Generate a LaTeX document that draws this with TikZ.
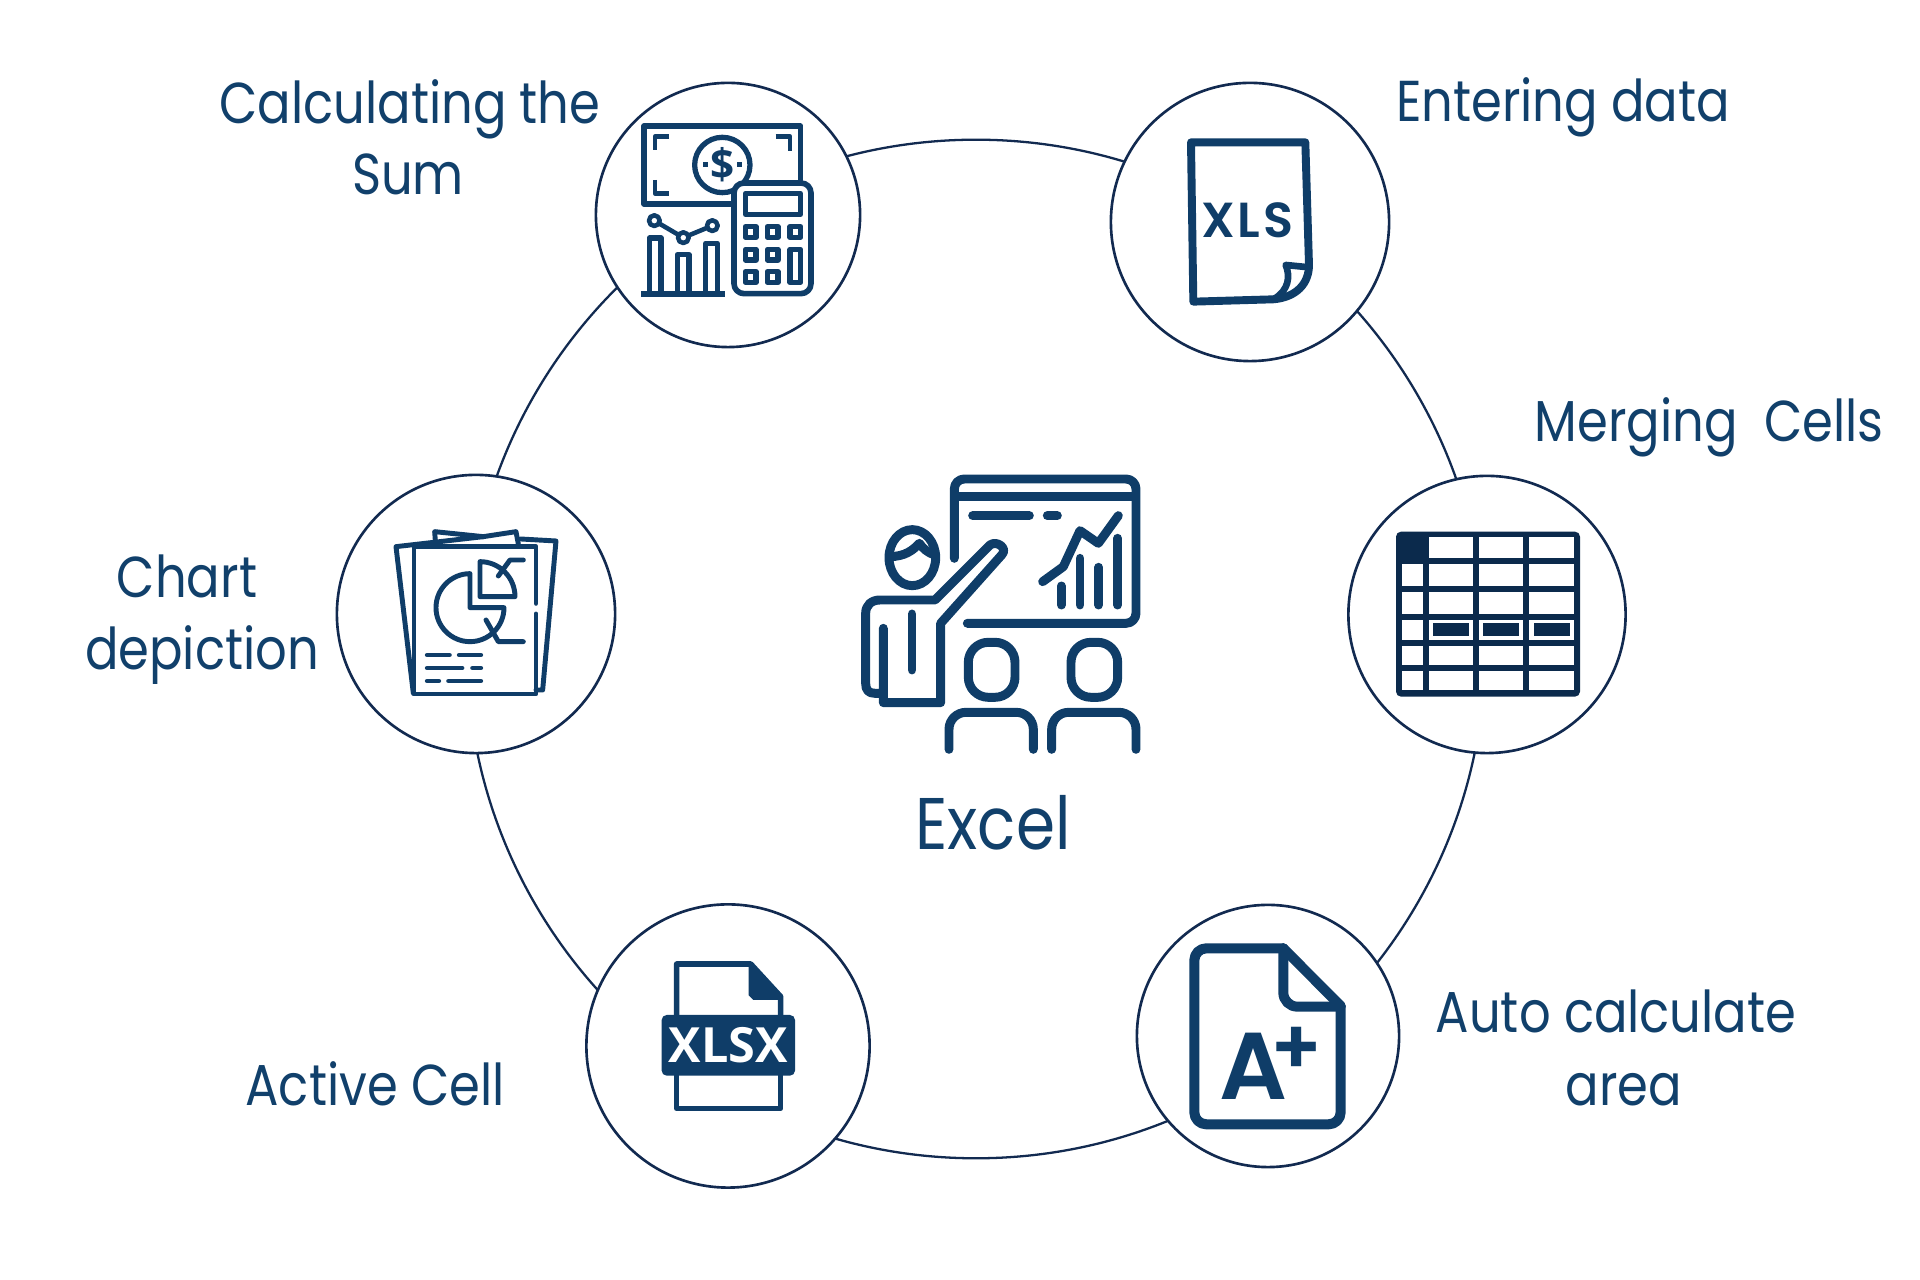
\documentclass[tikz,border=0pt]{standalone}
\usepackage{fontspec}
\usepackage{tikz}
\usetikzlibrary{positioning}
\newfontfamily\labelFont[FakeStretch=.86]{Poppins}
\newfontfamily\iconFont{Open Sans}
\newfontfamily\roundFont[LetterSpace=6]{Poppins SemiBold}
\definecolor{iconBlue}{RGB}{15,61,104}
\definecolor{circleBlue}{RGB}{18,42,80}
\definecolor{tableBlue}{RGB}{11,42,76}
\definecolor{textBlue}{RGB}{17,64,107}
\tikzstyle{canvas} = [x = .01cm, y = -.01cm]
\tikzstyle{iconFrame} = [shift={(#1)}, scale=1/3]
\tikzstyle{ringCircle} = [circle, draw=circleBlue, line width=.65pt, inner sep=0, minimum size=10.18cm]
\tikzstyle{iconCircleStyle} = [circle, draw=circleBlue, fill=white, line width=.75pt, inner sep=0]
\tikzstyle{labelStyle} = [anchor=base, inner sep=0, text=textBlue, font=\labelFont\fontsize{16.4}{20}\selectfont]
\tikzstyle{iconLine} = [color=iconBlue, line width=1.4pt, line cap=round, line join=round]
\tikzstyle{thinLine} = [iconLine, line width=1.3pt]
\tikzstyle{thickLine} = [iconLine, line width=2.55pt]
\tikzstyle{heavyLine} = [iconLine, line width=2.85pt]
\tikzstyle{iconText} = [inner sep=0, text=iconBlue]
\newcommand{\iconCircle}[4]{\node [iconCircleStyle, minimum size=#4 * .02cm] (#1) at (#2,#3) {};}
\newcommand{\labelText}[4]{\node [labelStyle] (#1) at (#2,#3) {#4};}
\newcommand{\calcIcon}{
  \begin{scope}[iconFrame={590,70}]
    \draw [iconLine, line width=1.5pt] (632,330) -- (632,168) -- (162,168) -- (162,402) -- (430,402);
    \draw [thinLine, line cap=butt] (237,200) -- (195,200) -- (195,240);
    \draw [thinLine, line cap=butt] (557,200) -- (600,200) -- (600,242);
    \draw [thinLine, line cap=butt] (195,330) -- (195,370) -- (237,370);
    \draw [iconLine, line width=1.5pt] (397,285) circle [radius=83];
    \node [iconText, font=\iconFont\bfseries\fontsize{12}{14}\selectfont] (dollarSign) at (397,283) {\$};
    \fill [iconBlue] (338,277) rectangle +(15,15);
    \fill [iconBlue] (441,277) rectangle +(15,15);
    \filldraw [iconLine, line width=1.6pt, fill=white, rounded corners=.1cm] (432,339) rectangle (663,671);
    \draw [thinLine] (466,370) rectangle (632,434);
    \foreach \column/\row in {458/462,524/462,592/462,458/530,524/530,458/597,524/597} {
      \draw [thinLine, line width=1.45pt, line cap=butt] (\column + 8,\row + 8) rectangle +(32,32);
    }
    \draw [thinLine, line width=1.45pt, line cap=butt] (600,538) rectangle (632,637);
    \foreach \barLeft/\barTop in {178/504,262/554,347/520} {
      \draw [thinLine, line width=1.45pt, line cap=butt] (\barLeft,672) -- (\barLeft,\barTop) -- +(35,0) -- (\barLeft + 35,672);
    }
    \draw [iconLine, line width=1.5pt, line cap=butt] (153,672) -- (405,672);
    \draw [thinLine] (193,452) -- (280,503) -- (367,467);
    \foreach \dotX/\dotY in {193/452,280/503,367/467} {
      \filldraw [thinLine, fill=white] (\dotX,\dotY) circle [radius=16];
    }
  \end{scope}
}
\newcommand{\enterIcon}{
  \begin{scope}[iconFrame={1110,70}]
    \draw [iconLine, line width=2.25pt] (243,217) -- (586,217) -- (597,585) .. controls (597,640) and (560,682) .. (490,688) -- (250,695) -- cycle;
    \draw [iconLine, line width=1.9pt] (597,592) -- (527,585) .. controls (542,620) and (535,660) .. (495,685);
    \node [iconText, font=\roundFont\fontsize{14}{16}\selectfont] (xlsText) at (412,450) {XLS};
  \end{scope}
}
\newcommand{\chartIcon}{
  \begin{scope}[iconFrame={330,470}]
    \draw [iconLine] (316,212) -- (314,185) -- (460,200) -- (558,185) -- (565,222);
    \draw [iconLine] (460,200) -- (198,230) -- (250,670);
    \draw [iconLine] (572,207) -- (678,213) -- (638,660) -- (618,660);
    \draw [iconLine] (618,400) -- (618,230) -- (252,230) -- (252,672) -- (618,672) -- (618,432);
    \draw [iconLine] (420,413) -- (522,413) arc (0:270:102) -- cycle;
    \draw [iconLine] (450,380) -- (555,380) arc (0:-90:105) -- cycle;
    \draw [iconLine] (505,318) -- (540,270) -- (580,270);
    \draw [iconLine] (468,450) -- (505,515) -- (580,515);
    \foreach \lineStart/\lineEnd/\lineY in {292/358/555,388/452/555,292/396/594,428/452/594,292/326/633,356/452/633} {
      \draw [iconLine] (\lineStart,\lineY) -- (\lineEnd,\lineY);
    }
  \end{scope}
}
\newcommand{\tableIcon}{
  \begin{scope}[iconFrame={1350,470}]
    \fill [tableBlue, rounded corners=.05cm] (138,185) rectangle (690,680);
    \foreach \rowTop/\rowEnd in {202/265,283/348,365/432,449/510,527/586,603/660} {
      \foreach \cellLeft/\cellEnd in {155/219,237/368,386/519,536/673} {
        \fill [white] (\cellLeft,\rowTop) rectangle (\cellEnd,\rowEnd);
      }
    }
    \fill [tableBlue] (150,195) rectangle (237,283);
    \foreach \markLeft in {248,398,552} {
      \fill [tableBlue] (\markLeft,460) rectangle +(108,37);
    }
  \end{scope}
}
\newcommand{\xlsxIcon}{
  \begin{scope}[iconFrame={590,900}]
    \draw [iconLine, line width=1.6pt] (260,345) -- (260,192) -- (482,192) -- (572,290) -- (572,345);
    \draw [iconLine, line width=1.6pt] (260,527) -- (260,625) -- (572,625) -- (572,527);
    \fill [iconBlue] (476,192) -- (578,294) -- (578,300) -- (490,300) -- (476,286) -- cycle;
    \fill [iconBlue, rounded corners=.05cm] (215,345) rectangle (615,527);
    \node [iconText, text=white, font=\iconFont\bfseries\fontsize{13.8}{16}\selectfont] (xlsxText) at (415,435) {XLSX};
  \end{scope}
}
\newcommand{\gradeIcon}{
  \begin{scope}[iconFrame={1140,900}]
    \draw [heavyLine, rounded corners=.12cm] (430,145) -- (163,145) -- (163,673) -- (602,673) -- (602,318);
    \draw [heavyLine] (602,318) -- (430,145);
    \draw [heavyLine, rounded corners=.14cm] (430,145) -- (430,320) -- (602,320);
    \node [iconText, anchor=base, font=\roundFont\fontsize{27}{30}\selectfont] (gradeText) at (340,600) {A};
    \node [iconText, font=\roundFont\fontsize{22}{24}\selectfont] (gradePlus) at (470,453) {+};
  \end{scope}
}
\newcommand{\excelIcon}{
  \begin{scope}[iconFrame={850,460}]
    \draw [thickLine, rounded corners=.1cm] (313,295) -- (313,57) -- (858,57) -- (858,490) -- (352,490);
    \draw [thickLine, line cap=butt] (313,110) -- (858,110);
    \draw [thickLine] (368,167) -- (538,167);
    \draw [thickLine] (592,167) -- (622,167);
    \foreach \barX/\barTop in {634/378,690/295,746/322,803/235} {
      \draw [thickLine] (\barX,435) -- (\barX,\barTop);
    }
    \draw [thickLine] (578,365) -- (640,320) -- (690,212) -- (745,250) -- (805,167);
    \draw [thickLine] (187,293) ellipse [x radius=70, y radius=84];
    \draw [thickLine, line cap=butt] (118,290) .. controls (165,290) and (190,270) .. (208,250) .. controls (218,265) and (235,280) .. (255,285);
    \draw [thickLine] (100,505) -- (100,700) -- (75,700) .. controls (55,700) and (47,690) .. (47,670) -- (47,460) .. controls (47,435) and (65,420) .. (90,420) -- (255,420) -- (420,255) .. controls (440,240) and (475,265) .. (455,285) -- (272,490) -- (272,728) -- (100,728) -- (100,700);
    \draw [thickLine] (186,462) -- (186,630);
    \foreach \headShift in {0,308} {
      \draw [thickLine, rounded corners=.2cm] (355 + \headShift,547) rectangle (495 + \headShift,712);
      \draw [thickLine, rounded corners=.17cm] (297 + \headShift,868) -- (297 + \headShift,757) -- (550 + \headShift,757) -- (550 + \headShift,868);
    }
  \end{scope}
}
\begin{document}
\begin{tikzpicture}[canvas]
  \useasboundingbox (0,0) rectangle (1920,1280);
  \node [ringCircle] (mainRing) at (976,649) {};
  \iconCircle{calcCircle}{728}{215}{132}
  \iconCircle{enterCircle}{1250}{222}{139}
  \iconCircle{chartCircle}{476}{614}{139}
  \iconCircle{tableCircle}{1487}{614.5}{138.5}
  \iconCircle{xlsxCircle}{728}{1046}{141.5}
  \iconCircle{gradeCircle}{1268}{1036}{131}
  \calcIcon
  \enterIcon
  \chartIcon
  \tableIcon
  \xlsxIcon
  \gradeIcon
  \excelIcon
  \labelText{calcLabelTop}{410}{124}{Calculating the}
  \labelText{calcLabelBottom}{408}{195}{Sum}
  \labelText{enterLabel}{1563}{122}{Entering data}
  \labelText{tableLabel}{1709}{442}{Merging\ \ Cells}
  \labelText{chartLabelTop}{187}{598}{Chart}
  \labelText{chartLabelBottom}{202}{670}{depiction}
  \labelText{xlsxLabel}{375}{1106}{Active Cell}
  \labelText{gradeLabelTop}{1616}{1033}{Auto calculate}
  \labelText{gradeLabelBottom}{1624}{1106}{area}
  \node [labelStyle, font=\labelFont\fontsize{20.8}{24}\selectfont] (excelLabel) at (993,850) {Excel};
\end{tikzpicture}
\end{document}
